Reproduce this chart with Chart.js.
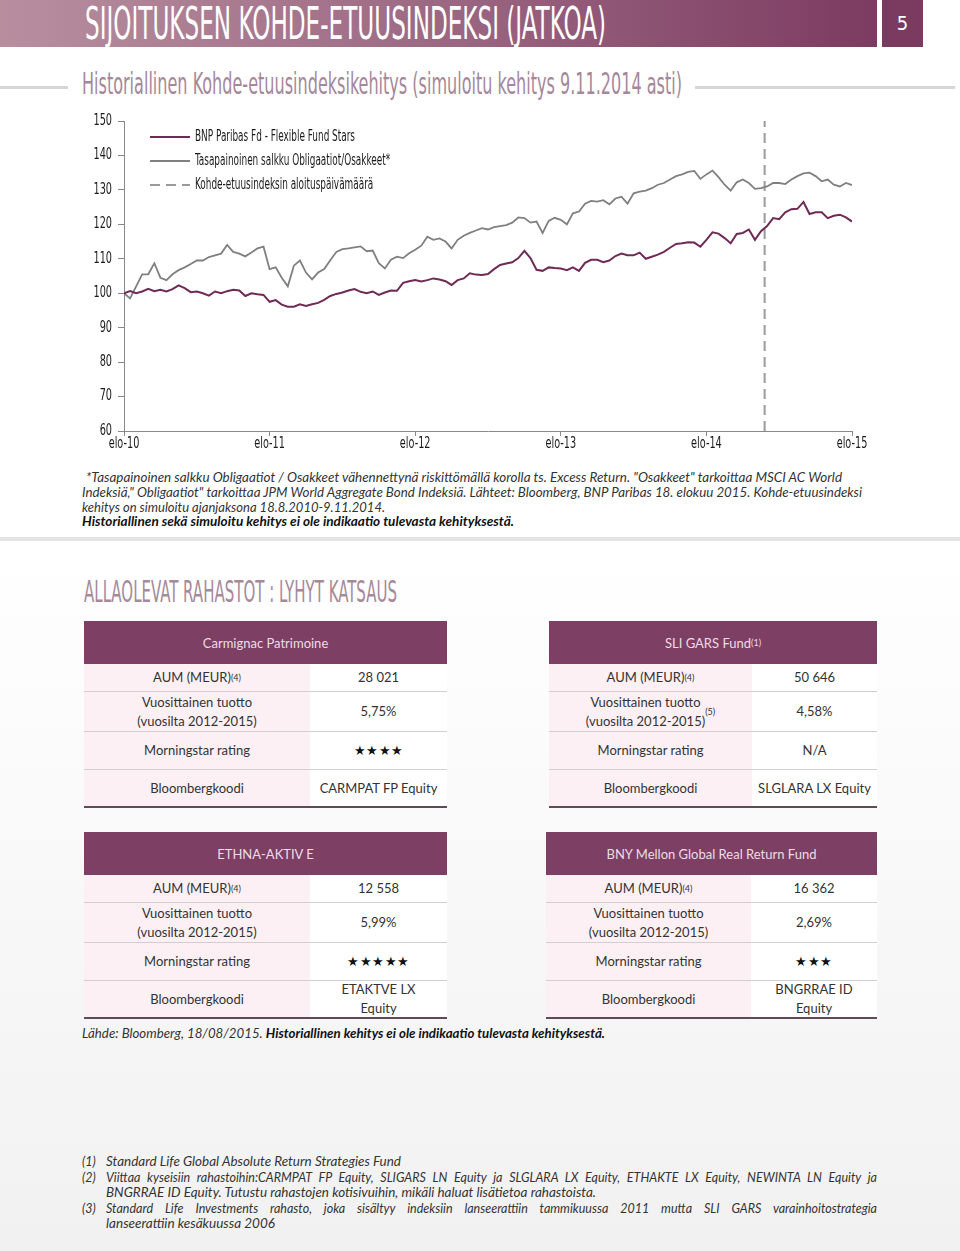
<!DOCTYPE html>
<html lang="fi">
<head>
<meta charset="utf-8">
<title>Sijoituksen kohde-etuusindeksi (jatkoa)</title>
<script src="https://cdn.jsdelivr.net/npm/chart.js@4.4.1/dist/chart.umd.min.js"></script>
<style>
  html, body { margin: 0; padding: 0; }
  body { width: 960px; height: 1251px; position: relative; overflow: hidden; background: #fff; font-family: Lato, "Open Sans", sans-serif; color: #333; }
  .abs { position: absolute; white-space: nowrap; }
  .narrow { font-family: "Liberation Sans Narrow", "DejaVu Sans Condensed", sans-serif; }
  #header { position: absolute; left: 0; top: 0; width: 877px; height: 47px; background: linear-gradient(90deg, #b88e9f 0%, #a27189 40%, #7c3b61 100%); }
  #pagebox { position: absolute; left: 882px; top: 0; width: 41px; height: 47px; background: #7b3a60; color: #fff; font-size: 20px; text-align: center; line-height: 47px; }
  .rule { position: absolute; height: 3px; background: #d6d6d6; }
  #chartBox { position: absolute; left: 60px; top: 100px; width: 820px; height: 360px; }
  .note { font-style: italic; font-size: 13px; color: #333; }
  #lower { position: absolute; left: 0; top: 541px; width: 960px; height: 710px; background: linear-gradient(#ffffff, #f1f1f1); }
  #sep { position: absolute; left: 0; top: 537px; width: 960px; height: 4px; background: #e4e4e4; }
  .fund { position: absolute; font-size: 13px; color: #333; }
  .fhead { height: 43px; background: #7e3f64; color: #ecdde6; display: flex; align-items: center; justify-content: center; }
  .frow { display: flex; border-top: 1px solid #cfcfcf; box-sizing: border-box; }
  .frow.first { border-top: none; }
  .fund .last { border-bottom: 2px solid #5f4a58; }
  .lab, .val { display: flex; align-items: center; justify-content: center; text-align: center; line-height: 19px; }
  .lab { background: #fcf0f4; }
  .val { flex: 1; background: #fff; }
  sup { font-size: 9px; vertical-align: 5px; line-height: 0; }
  .stars { letter-spacing: 0.5px; font-size: 13px; color: #111; }
  .foot { font-style: italic; font-size: 12.5px; color: #333; }
  .just { text-align: justify; text-align-last: justify; white-space: normal; }
</style>
</head>
<body>

<div id="header"></div>
<div class="abs narrow" style="left:85px;top:0px;font-size:44px;line-height:47px;color:#fff;" data-w="521">SIJOITUKSEN KOHDE-ETUUSINDEKSI (JATKOA)</div>
<div id="pagebox" class="narrow">5</div>

<div class="rule" style="left:0;top:86px;width:68px;"></div>
<div class="abs narrow" style="left:82px;top:66px;font-size:30px;line-height:36px;color:#a6879a;" data-w="600">Historiallinen Kohde-etuusindeksikehitys (simuloitu kehitys 9.11.2014 asti)</div>
<div class="rule" style="left:695px;top:86px;width:260px;"></div>

<div id="chartBox"><canvas id="indexChart"></canvas></div>

<div class="abs note" style="left:86px;top:469px;" data-w="756">*Tasapainoinen salkku Obligaatiot / Osakkeet vähennettynä riskittömällä korolla ts. Excess Return. "Osakkeet" tarkoittaa MSCI AC World</div>
<div class="abs note" style="left:82px;top:484px;" data-w="780">Indeksiä," Obligaatiot" tarkoittaa JPM World Aggregate Bond Indeksiä. Lähteet: Bloomberg, BNP Paribas 18. elokuu 2015. Kohde-etuusindeksi</div>
<div class="abs note" style="left:82px;top:499px;" data-w="303">kehitys on simuloitu ajanjaksona 18.8.2010-9.11.2014.</div>
<div class="abs note" style="left:82px;top:513px;font-weight:bold;color:#111;" data-w="432">Historiallinen sekä simuloitu kehitys ei ole indikaatio tulevasta kehityksestä.</div>

<div id="sep"></div>
<div id="lower"></div>

<div class="abs narrow" style="left:84px;top:573px;font-size:31px;line-height:36px;color:#a58a9a;" data-w="313">ALLAOLEVAT RAHASTOT : LYHYT KATSAUS</div>

<div class="fund" style="left:84px;top:621px;width:363px;">
  <div class="fhead">Carmignac Patrimoine</div>
  <div class="frow first" style="height:27px"><div class="lab" style="width:226px">AUM (MEUR)<sup>(4)</sup></div><div class="val">28 021</div></div>
  <div class="frow" style="height:40px"><div class="lab" style="width:226px">Vuosittainen tuotto<br>(vuosilta 2012-2015)</div><div class="val">5,75%</div></div>
  <div class="frow" style="height:38px"><div class="lab" style="width:226px">Morningstar rating</div><div class="val stars">★★★★</div></div>
  <div class="frow last" style="height:39px"><div class="lab" style="width:226px">Bloombergkoodi</div><div class="val">CARMPAT FP Equity</div></div>
</div>

<div class="fund" style="left:549px;top:621px;width:328px;">
  <div class="fhead">SLI GARS Fund<sup>(1)</sup></div>
  <div class="frow first" style="height:27px"><div class="lab" style="width:203px">AUM (MEUR)<sup>(4)</sup></div><div class="val">50 646</div></div>
  <div class="frow" style="height:40px"><div class="lab" style="width:203px">Vuosittainen tuotto<br>(vuosilta 2012-2015)<sup>(5)</sup></div><div class="val">4,58%</div></div>
  <div class="frow" style="height:38px"><div class="lab" style="width:203px">Morningstar rating</div><div class="val">N/A</div></div>
  <div class="frow last" style="height:39px"><div class="lab" style="width:203px">Bloombergkoodi</div><div class="val">SLGLARA LX Equity</div></div>
</div>

<div class="fund" style="left:84px;top:832px;width:363px;">
  <div class="fhead">ETHNA-AKTIV E</div>
  <div class="frow first" style="height:27px"><div class="lab" style="width:226px">AUM (MEUR)<sup>(4)</sup></div><div class="val">12 558</div></div>
  <div class="frow" style="height:40px"><div class="lab" style="width:226px">Vuosittainen tuotto<br>(vuosilta 2012-2015)</div><div class="val">5,99%</div></div>
  <div class="frow" style="height:38px"><div class="lab" style="width:226px">Morningstar rating</div><div class="val stars">★★★★★</div></div>
  <div class="frow last" style="height:39px"><div class="lab" style="width:226px">Bloombergkoodi</div><div class="val">ETAKTVE LX<br>Equity</div></div>
</div>

<div class="fund" style="left:546px;top:832px;width:331px;">
  <div class="fhead">BNY Mellon Global Real Return Fund</div>
  <div class="frow first" style="height:27px"><div class="lab" style="width:205px">AUM (MEUR)<sup>(4)</sup></div><div class="val">16 362</div></div>
  <div class="frow" style="height:40px"><div class="lab" style="width:205px">Vuosittainen tuotto<br>(vuosilta 2012-2015)</div><div class="val">2,69%</div></div>
  <div class="frow" style="height:38px"><div class="lab" style="width:205px">Morningstar rating</div><div class="val stars">★★★</div></div>
  <div class="frow last" style="height:39px"><div class="lab" style="width:205px">Bloombergkoodi</div><div class="val">BNGRRAE ID<br>Equity</div></div>
</div>

<div class="abs foot" style="left:82px;top:1026px;" data-w="523">Lähde: Bloomberg, 18/08/2015. <b style="color:#111">Historiallinen kehitys ei ole indikaatio tulevasta kehityksestä.</b></div>

<div class="abs foot" style="left:82px;top:1154px;">(1)</div>
<div class="abs foot" style="left:106px;top:1154px;" data-w="295">Standard Life Global Absolute Return Strategies Fund</div>
<div class="abs foot" style="left:82px;top:1170px;">(2)</div>
<div class="abs foot just" style="left:106px;top:1170px;width:771px;">Viittaa kyseisiin rahastoihin:CARMPAT FP Equity, SLIGARS LN Equity ja SLGLARA LX Equity, ETHAKTE LX Equity, NEWINTA LN Equity ja</div>
<div class="abs foot" style="left:106px;top:1185px;" data-w="490">BNGRRAE ID Equity. Tutustu rahastojen kotisivuihin, mikäli haluat lisätietoa rahastoista.</div>
<div class="abs foot" style="left:82px;top:1201px;">(3)</div>
<div class="abs foot just" style="left:106px;top:1201px;width:771px;">Standard Life Investments rahasto, joka sisältyy indeksiin lanseerattiin tammikuussa 2011 mutta SLI GARS varainhoitostrategia</div>
<div class="abs foot" style="left:106px;top:1216px;" data-w="169">lanseerattiin kesäkuussa 2006</div>

<script>
// chart data (half-month steps from elo-10 to elo-15)
const xTickLabels = ['elo-10', 'elo-11', 'elo-12', 'elo-13', 'elo-14', 'elo-15'];
const yTicks = [60, 70, 80, 90, 100, 110, 120, 130, 140, 150];
const stepMonths = 0.5;
const launchMonth = 52.8; // 9.11.2014 start of the index

const fundValues = [ // BNP Paribas Fd - Flexible Fund Stars
  100, 100.6, 100, 100.5, 101.3, 100.6, 101, 100.5, 101.2, 102.3,
  101.5, 100.3, 100.5, 100, 99.3, 100.5, 100, 100.6, 101, 100.8,
  99.2, 100, 99.7, 99.5, 97.5, 98, 96.7, 96.1, 96.1, 96.8,
  96.3, 96.8, 97.2, 98.1, 99.2, 99.8, 100.2, 100.8, 101.2, 100.4,
  100, 100.5, 99.5, 100.2, 100.8, 100.7, 103, 103.5, 103.8, 103.4,
  103.8, 104.3, 104, 103.5, 102.4, 103.8, 104.3, 105.8, 105.4, 105.3,
  105.6, 107, 108.2, 108.6, 109, 110.2, 112.3, 110.2, 106.8, 106.5,
  107.5, 107.3, 107.2, 106.7, 107.5, 106.5, 108.8, 109.7, 109.7, 109,
  109.5, 110.8, 111.5, 111, 111, 111.8, 110, 110.6, 111.2, 112,
  113.2, 114.3, 114.5, 114.8, 114.7, 113.5, 115.5, 117.7, 117.3, 116,
  114.5, 117.2, 117.5, 118.5, 115.5, 118, 119.5, 121.8, 121.5, 123.5,
  124.4, 124.5, 126.5, 123, 123.5, 123.5, 121.8, 122.5, 122.8, 122,
  120.8
];

const portfolioValues = [ // Tasapainoinen salkku Obligaatiot/Osakkeet*
  100, 98.5, 102, 105.5, 105.5, 108.7, 104.5, 103.8, 105.5, 106.7,
  107.5, 108.5, 109.5, 109.5, 110.5, 111, 111.5, 114, 112, 111.5,
  110.7, 111.8, 113, 113.5, 107, 107.5, 104.5, 102, 108, 109.5,
  106, 104, 106, 107, 109.6, 112, 112.8, 113, 113.3, 113.6,
  112.2, 112.4, 108.7, 107.2, 109.7, 110.6, 110.2, 111.6, 112.6, 113.8,
  116.4, 115.5, 115.9, 115, 113, 115.5, 116.7, 117.5, 118.2, 118.9,
  118.5, 119.2, 119.5, 119.8, 120.5, 122, 121.8, 120.5, 120.8, 117.5,
  121, 121.9, 121.3, 120, 123.2, 123.7, 126, 126.8, 126.6, 127,
  125.8, 127.5, 128, 126, 129, 129.5, 129.8, 130.5, 131.5, 132,
  133, 134, 134.5, 135.2, 135.5, 133.2, 134.5, 135.6, 133.7, 131.5,
  129.8, 132.2, 133, 132, 130.3, 130.5, 131, 132, 132, 131.7,
  133, 134, 134.8, 135, 134, 132.5, 133, 131.5, 131, 132,
  131.4
];

const seriesNames = [
  'BNP Paribas Fd - Flexible Fund Stars',
  'Tasapainoinen salkku Obligaatiot/Osakkeet*',
  'Kohde-etuusindeksin aloituspäivämäärä'
];

const NARROW = '"Liberation Sans Narrow", "DejaVu Sans Condensed", sans-serif';

const toPoints = vals => vals.map((v, i) => ({ x: i * stepMonths, y: v }));

// draw condensed text (the reference uses a narrow display face)
function narrowText(ctx, text, x, y, align, sx) {
  ctx.save();
  ctx.translate(x, y);
  ctx.scale(sx, 1);
  ctx.textAlign = align;
  ctx.fillText(text, 0, 0);
  ctx.restore();
}

// legend inside the plot (top left) and narrow tick labels
const pageDecor = {
  id: 'pageDecor',
  afterDraw(chart) {
    const { ctx, chartArea, scales } = chart;
    ctx.save();
    ctx.fillStyle = '#1a1a1a';
    ctx.textBaseline = 'middle';
    ctx.font = '15px ' + NARROW;

    // tick labels from the library's own scales
    scales.y.ticks.forEach(t => {
      narrowText(ctx, String(t.value), scales.y.right - 12, scales.y.getPixelForValue(t.value), 'right', 0.72);
    });
    scales.x.ticks.forEach(t => {
      narrowText(ctx, t.label, scales.x.getPixelForValue(t.value), scales.x.top + 13, 'center', 0.72);
    });

    // legend
    const x = chartArea.left + 26;
    const sx = Math.min(1, 160 / ctx.measureText(chart.data.datasets[0].label).width);
    chart.data.datasets.forEach((ds, i) => {
      const y = chartArea.top + 16 + i * 24;
      ctx.save();
      ctx.strokeStyle = ds.borderColor;
      ctx.lineWidth = ds.borderWidth;
      ctx.setLineDash(ds.borderDash || []);
      ctx.beginPath();
      ctx.moveTo(x, y);
      ctx.lineTo(x + 40, y);
      ctx.stroke();
      ctx.restore();
      narrowText(ctx, ds.label, x + 45, y, 'left', sx);
    });
    ctx.restore();
  }
};

const ctx = document.getElementById('indexChart').getContext('2d');
new Chart(ctx, {
  type: 'line',
  data: {
    datasets: [
      { label: seriesNames[0], data: toPoints(fundValues), borderColor: '#6f2a56', borderWidth: 2 },
      { label: seriesNames[1], data: toPoints(portfolioValues), borderColor: '#808080', borderWidth: 1.8 },
      { label: seriesNames[2], data: [{ x: launchMonth, y: yTicks[0] }, { x: launchMonth, y: yTicks[yTicks.length - 1] }],
        borderColor: '#9a9a9a', borderWidth: 2, borderDash: [10, 6] }
    ]
  },
  options: {
    responsive: true,
    maintainAspectRatio: false,
    animation: false,
    layout: { padding: { top: 21, right: 28, left: 0, bottom: 0 } },
    elements: { point: { radius: 0 }, line: { tension: 0 } },
    plugins: { legend: { display: false }, tooltip: { enabled: false } },
    scales: {
      x: {
        type: 'linear', min: 0, max: 60,
        afterFit: s => { s.height = 29; },
        grid: { drawOnChartArea: false, drawTicks: true, tickLength: 5, color: '#888' },
        border: { color: '#888' },
        ticks: { stepSize: 12, autoSkip: false, maxRotation: 0, padding: 1, color: 'rgba(0,0,0,0)',
                 font: { family: NARROW, size: 14 },
                 callback: v => xTickLabels[v / 12] }
      },
      y: {
        min: yTicks[0], max: yTicks[yTicks.length - 1],
        afterFit: s => { s.width = 64; },
        afterBuildTicks: s => { s.ticks = yTicks.map(v => ({ value: v })); },
        grid: { drawOnChartArea: false, drawTicks: true, tickLength: 6, color: '#888' },
        border: { color: '#888' },
        ticks: { padding: 6, color: 'rgba(0,0,0,0)', font: { family: NARROW, size: 14 } }
      }
    }
  },
  plugins: [pageDecor]
});

// squeeze text blocks to the widths seen in the reference
document.querySelectorAll('[data-w]').forEach(el => {
  const w = el.getBoundingClientRect().width;
  el.style.transformOrigin = 'left center';
  el.style.transform = 'scaleX(' + (el.dataset.w / w) + ')';
});
</script>
</body>
</html>
